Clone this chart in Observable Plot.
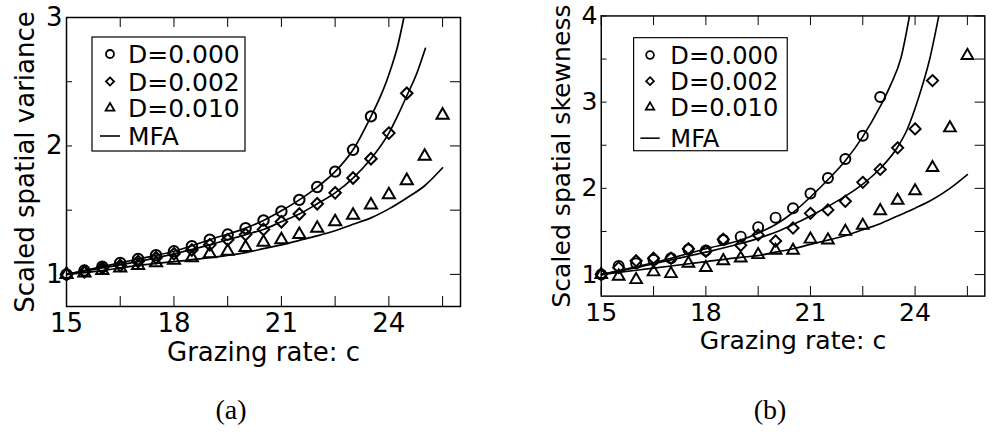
<!DOCTYPE html>
<html><head><meta charset="utf-8">
<script src="https://cdn.jsdelivr.net/npm/d3@7"></script>
<script src="https://cdn.jsdelivr.net/npm/@observablehq/plot@0.6"></script>
<style>
html,body{margin:0;padding:0;background:#fff;overflow:hidden;}
#wrap{position:relative;width:994px;height:442px;overflow:hidden;background:#fff;}
.panel{position:absolute;top:0;}
.cap{position:absolute;font-family:"Liberation Serif",serif;font-size:28px;line-height:1;transform:translate(-50%,-50%);}
</style></head><body>
<div id="wrap">
  <div id="pa" class="panel" style="left:0px"></div>
  <div id="pb" class="panel" style="left:537px"></div>
  <div class="cap" style="left:231px;top:410px">(a)</div>
  <div class="cap" style="left:770px;top:410px">(b)</div>
</div>
<script>
// ---------- shared ----------
const cGrid = [15,15.5,16,16.5,17,17.5,18,18.5,19,19.5,20,20.5,21,21.5,22,22.5,23,23.5,24,24.5,25,25.5];
const xTickLabels = [15,18,21,24];
const xMinorTicks = [15,16.5,18,19.5,21,22.5,24,25.5];
const legendLabels = ["D=0.000","D=0.002","D=0.010","MFA"];
const xLabel = "Grazing rate: c";

// ---------- panel (a): scaled spatial variance ----------
const varLabel = "Scaled spatial variance";
const varYTickLabels = [1,2,3];
const varYMinorTicks = [1,1.5,2,2.5,3];
const varD000 = [1.00,1.03,1.06,1.09,1.12,1.15,1.18,1.22,1.27,1.31,1.36,1.42,1.49,1.58,1.68,1.80,1.97,2.23];
const varD002 = [1.00,1.02,1.05,1.07,1.10,1.13,1.16,1.19,1.23,1.27,1.31,1.35,1.41,1.47,1.55,1.635,1.75,1.90,2.10,2.41];
const varD010 = [1.00,1.01,1.03,1.05,1.07,1.09,1.11,1.13,1.16,1.18,1.21,1.25,1.27,1.31,1.36,1.41,1.46,1.54,1.62,1.73,1.92,2.24];
const mfaVar000X = [15,16,17,18,19,20,20.5,21,21.5,22,22.5,23,23.5,23.74,23.93,24.09,24.23,24.42];
const mfaVar000Y = [1.00,1.06,1.12,1.18,1.27,1.36,1.42,1.495,1.58,1.68,1.80,1.97,2.23,2.37,2.50,2.63,2.76,3.00];
const mfaVar002X = [15,16,17,18,19,20,20.5,21,21.5,22,22.5,23,23.5,24,24.27,24.5,24.8,25.02];
const mfaVar002Y = [1.00,1.05,1.10,1.16,1.23,1.31,1.35,1.41,1.47,1.55,1.635,1.75,1.90,2.10,2.25,2.39,2.58,2.76];
const mfaVar010X = [15,16,17,18,19,20,20.5,21,21.5,22,22.5,23,23.5,24,24.5,25,25.5];
const mfaVar010Y = [1.00,1.03,1.07,1.10,1.13,1.17,1.20,1.23,1.265,1.30,1.34,1.39,1.44,1.51,1.595,1.69,1.83];

// ---------- panel (b): scaled spatial skewness ----------
const skewLabel = "Scaled spatial skewness";
const skewYTickLabels = [1,2,3,4];
const skewYMinorTicks = [1,1.5,2,2.5,3,3.5,4];
const skewD000 = [1.00,1.10,1.13,1.17,1.19,1.29,1.28,1.40,1.44,1.55,1.66,1.77,1.94,2.12,2.34,2.61,3.06];
const skewD002 = [1.00,1.08,1.16,1.19,1.19,1.30,1.27,1.41,1.34,1.46,1.39,1.54,1.71,1.75,1.85,2.07,2.22,2.47,2.69,3.25];
const skewD010 = [1.00,0.98,0.94,1.03,1.01,1.13,1.08,1.16,1.19,1.23,1.28,1.28,1.41,1.40,1.50,1.57,1.74,1.86,1.97,2.24,2.70,3.54];
const mfaSkew000X = [15,16,17,18,19,19.5,20,20.5,21,21.5,22,22.5,23,23.3,23.6,23.84];
const mfaSkew000Y = [1.00,1.09,1.19,1.30,1.40,1.48,1.58,1.72,1.90,2.10,2.32,2.60,2.95,3.20,3.52,4.00];
const mfaSkew002X = [15,16,17,18,19,19.5,20,20.5,21,21.5,22,22.5,23,23.5,23.77,24.1,24.42,24.68];
const mfaSkew002Y = [1.00,1.08,1.17,1.26,1.36,1.42,1.49,1.58,1.68,1.79,1.91,2.05,2.23,2.48,2.68,3.05,3.50,4.00];
const mfaSkew010X = [15,16,17,18,19,19.5,20,20.5,21,21.5,22,22.5,23,23.5,24,24.5,25,25.5];
const mfaSkew010Y = [1.00,1.05,1.10,1.15,1.20,1.22,1.26,1.30,1.35,1.40,1.45,1.52,1.59,1.68,1.77,1.87,2.00,2.16];

const FONT = "DejaVu Sans";
const pts = (vals) => vals.map((v, i) => ({x: cGrid[i], y: v}));
const crv = (xs, ys) => xs.map((x, i) => ({x, y: ys[i]}));

function makePanel(cfg) {
  const H = cfg.height - cfg.marginTop - cfg.marginBottom;
  const W = cfg.width - cfg.marginLeft - cfg.marginRight;
  const dotOpts = {x: "x", y: "y", fill: "none", stroke: "black", strokeWidth: 2};
  const svg = Plot.plot({
    width: cfg.width, height: cfg.height,
    marginLeft: cfg.marginLeft, marginRight: cfg.marginRight,
    marginTop: cfg.marginTop, marginBottom: cfg.marginBottom,
    style: {fontFamily: FONT, fontSize: "26px", color: "black", background: "white", overflow: "visible"},
    x: {domain: [15, 26]},
    y: {domain: cfg.yDomain},
    marks: [
      Plot.frame({stroke: "black", strokeWidth: 1.5}),
      Plot.ruleX(xMinorTicks, {insetTop: H - 10, stroke: "black", strokeWidth: 1}),
      Plot.ruleX(xMinorTicks, {insetBottom: H - 10, stroke: "black", strokeWidth: 1}),
      Plot.ruleY(cfg.yMinor, {insetRight: W - 6, stroke: "black", strokeWidth: 1}),
      Plot.ruleY(cfg.yMinor, {insetLeft: W - 10, stroke: "black", strokeWidth: 1}),
      Plot.axisX({ticks: xTickLabels, tickFormat: d => String(d), tickSize: 0, tickPadding: 7, label: null, fontSize: 26}),
      Plot.axisY({ticks: cfg.yTicks, tickFormat: d => String(d), tickSize: 0, tickPadding: 4, label: null, fontSize: 26}),
      ...cfg.curves.map(c => Plot.line(c, {x: "x", y: "y", curve: "monotone-x", stroke: "black", strokeWidth: 1.7, clip: true})),
      Plot.dot(cfg.s0, {...dotOpts, symbol: "circle", r: 5.2}),
      Plot.dot(cfg.s1, {...dotOpts, symbol: "diamond2", r: 5.2}),
      Plot.dot(cfg.s2, {...dotOpts, symbol: "triangle2", r: 5.8}),
      Plot.text([xLabel], {text: d => d, frameAnchor: "bottom", textAnchor: "middle", lineAnchor: "middle", dy: 46, fontSize: 26, fill: "black"}),
      Plot.text([cfg.yLabel], {text: d => d, frameAnchor: "left", textAnchor: "middle", lineAnchor: "middle", dx: -41, rotate: -90, fontSize: 26, fill: "black"})
    ]
  });
  // legend
  const L = cfg.legend;
  const g = d3.select(svg).append("g");
  g.append("rect").attr("x", L.x).attr("y", L.y).attr("width", L.w).attr("height", L.h)
    .attr("fill", "white").attr("stroke", "black").attr("stroke-width", 1.2);
  const types = [d3.symbolCircle, d3.symbolDiamond2, d3.symbolTriangle2];
  const sizes = [50, 42, 55];
  legendLabels.forEach((lab, i) => {
    const cy = L.rows[i];
    if (i < 3) {
      g.append("path").attr("d", d3.symbol(types[i], sizes[i])())
        .attr("transform", `translate(${L.sx},${cy})`)
        .attr("fill", "none").attr("stroke", "black").attr("stroke-width", 1.8);
    } else {
      g.append("line").attr("x1", L.sx - 10).attr("x2", L.sx + 10).attr("y1", cy).attr("y2", cy)
        .attr("stroke", "black").attr("stroke-width", 1.6);
    }
    g.append("text").attr("x", L.tx).attr("y", cy).attr("dy", "0.36em")
      .attr("text-anchor", "start")
      .attr("font-family", FONT).attr("font-size", L.fs).attr("fill", "black").text(lab);
  });
  return svg;
}

const svgA = makePanel({
  width: 470, height: 380, marginLeft: 66, marginRight: 10, marginTop: 17, marginBottom: 74,
  yDomain: [0.75, 3], yTicks: varYTickLabels, yMinor: varYMinorTicks, yLabel: varLabel,
  s0: pts(varD000), s1: pts(varD002), s2: pts(varD010),
  curves: [crv(mfaVar000X, mfaVar000Y), crv(mfaVar002X, mfaVar002Y), crv(mfaVar010X, mfaVar010Y)],
  legend: {x: 92, y: 37, w: 153, h: 114, sx: 110, tx: 128, fs: 25, rows: [54, 81.5, 108, 136]}
});
document.getElementById("pa").appendChild(svgA);

const svgB = makePanel({
  width: 473, height: 380, marginLeft: 66, marginRight: 10, marginTop: 16, marginBottom: 74,
  yDomain: [0.75, 4], yTicks: skewYTickLabels, yMinor: skewYMinorTicks, yLabel: skewLabel,
  s0: pts(skewD000), s1: pts(skewD002), s2: pts(skewD010),
  curves: [crv(mfaSkew000X, mfaSkew000Y), crv(mfaSkew002X, mfaSkew002Y), crv(mfaSkew010X, mfaSkew010Y)],
  legend: {x: 100, y: 39, w: 159, h: 117, sx: 117, tx: 138, fs: 25, rows: [57, 84, 111, 143]}
});
document.getElementById("pb").appendChild(svgB);
</script>
</body></html>
